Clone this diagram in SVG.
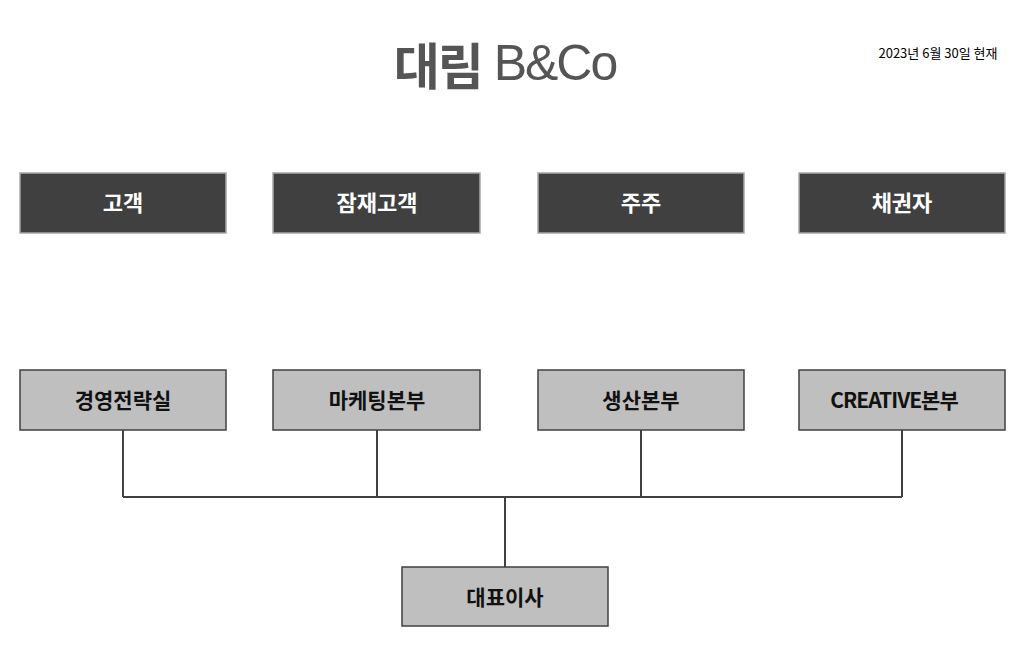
<svg xmlns="http://www.w3.org/2000/svg" width="1031" height="659" viewBox="0 0 1031 659">
<style>
text{font-family:"Noto Sans CJK KR","Noto Sans",sans-serif;text-anchor:middle;dominant-baseline:central}
.t rect{fill:#404040;stroke:#a6a6a6;stroke-width:1.5}
.t text{fill:#fff;font-size:22px;font-weight:bold}
.d rect{fill:#bfbfbf;stroke:#404040;stroke-width:1.5}
.d text{fill:#111;font-size:21px;font-weight:bold}
.c{stroke:#404040;stroke-width:2;fill:none}
</style>
<rect width="1031" height="659" fill="#fff"/>
<text x="505" y="63" font-size="50" fill="#555" font-weight="bold" style="letter-spacing:-2px">대림<tspan font-weight="normal" font-family="Liberation Sans Narrow,Liberation Sans,sans-serif"> B&amp;Co</tspan></text>
<text x="938" y="52" font-size="13" fill="#000">2023년 6월 30일 현재</text>
<g id="n1" class="t"><rect x="20" y="173" width="206" height="60"/><text x="123" y="201">고객</text></g>
<g id="n2" class="t"><rect x="273" y="173" width="207" height="60"/><text x="377" y="201">잠재고객</text></g>
<g id="n3" class="t"><rect x="538" y="173" width="206" height="60"/><text x="641" y="201">주주</text></g>
<g id="n4" class="t"><rect x="799" y="173" width="206" height="60"/><text x="902" y="201">채권자</text></g>
<g id="connectors">
<path class="c" d="M123 430V497M377 430V497M641 430V497M902 430V497M123 497H902M505 497V567"/>
</g>
<g id="n5" class="d"><rect x="20" y="370" width="206" height="60"/><text x="123" y="399">경영전략실</text></g>
<g id="n6" class="d"><rect x="273" y="370" width="207" height="60"/><text x="377" y="399">마케팅본부</text></g>
<g id="n7" class="d"><rect x="538" y="370" width="206" height="60"/><text x="641" y="399">생산본부</text></g>
<g id="n8" class="d"><rect x="799" y="370" width="206" height="60"/><text x="894" y="399" style="letter-spacing:-1px">CREATIVE본부</text></g>
<g id="n9" class="d"><rect x="402" y="567" width="206" height="59"/><text x="505" y="596">대표이사</text></g>
</svg>
